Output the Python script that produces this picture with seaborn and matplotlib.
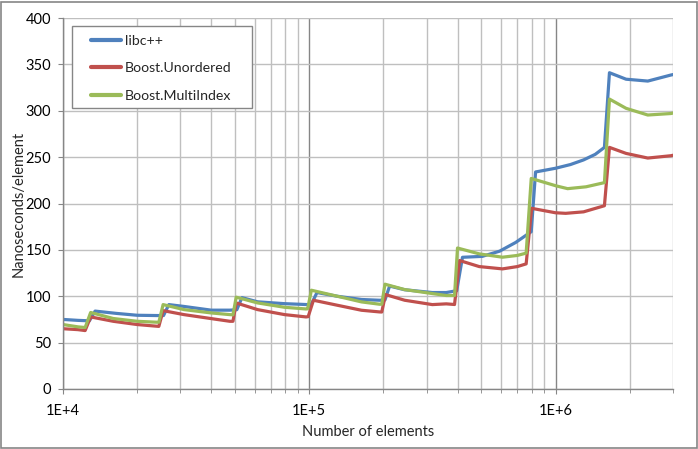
import numpy as np
import pandas as pd
import seaborn as sns
import matplotlib.pyplot as plt
from matplotlib.patches import Rectangle
from matplotlib.ticker import FixedLocator, FuncFormatter, NullFormatter

# values (number of elements, ns/element)
libcpp_n = [10000, 11500, 12800, 13500, 16500, 20000, 24000, 25600, 26900, 31000, 40000,
            47600, 50800, 53300, 61700, 79400, 98600, 102000, 107500, 130000, 163000,
            193000, 203000, 212000, 244000, 316000, 360000, 397000, 419000, 504000,
            593000, 689000, 797000, 830000, 1000000, 1150000, 1300000, 1450000, 1580000,
            1656000, 1935000, 2370000, 2940000, 3000000]
libcpp_ns = [75, 74, 73.5, 84, 81.5, 79.5, 79.2, 79.2, 91, 89, 85,
             85, 85.5, 98.5, 94, 92, 91, 91.5, 104, 100, 96.5,
             95.7, 96, 111, 107, 104, 104, 106, 142, 143,
             148.6, 158, 169.6, 234, 238, 242, 247, 253, 260.5,
             341, 334, 332, 338.5, 339]

unordered_n = [10000, 11500, 12300, 12950, 16000, 20000, 24000, 24500, 25500, 31000,
               40000, 47600, 49000, 50500, 61700, 79400, 97000, 99000, 104000, 130000,
               163000, 193000, 197000, 204000, 244000, 316000, 360000, 389000, 408000,
               490000, 609000, 700000, 760000, 800000, 1000000, 1100000, 1300000,
               1580000, 1656000, 1935000, 2370000, 2940000, 3000000]
unordered_ns = [65, 64, 63, 77.7, 73, 69.5, 67.7, 67.5, 84.5, 80.2,
                75.9, 73, 73, 92.8, 85.6, 80.2, 77.7, 78, 95.7, 90.3,
                84.9, 83.1, 83, 101.8, 95.7, 91, 91.8, 91.1, 138.5,
                132, 129.5, 132, 134.9, 194.8, 190, 189.4, 191,
                197.6, 260.5, 254, 249, 251.5, 252]

multiindex_n = [10000, 11500, 12300, 12950, 16000, 20000, 24000, 24500, 25500, 31000,
                40000, 47600, 49000, 50500, 61700, 79400, 97000, 98500, 102000, 130000,
                163000, 193000, 197000, 203000, 244000, 316000, 360000, 389000, 400000,
                490000, 609000, 700000, 760000, 797000, 1006000, 1120000, 1330000,
                1580000, 1656000, 1935000, 2370000, 2940000, 3000000]
multiindex_ns = [69.5, 67, 66.3, 82.5, 76, 73, 72, 72, 91, 85.6,
                 82, 80.2, 80, 99, 92.8, 88.1, 86.3, 86.5, 106.5, 100,
                 93.9, 91.4, 91.4, 113, 107.2, 102.9, 100.8, 100.8, 152,
                 145.7, 142.1, 144, 146.5, 227, 219, 216, 218,
                 222.5, 312.6, 302.6, 295.4, 297, 297.5]

series_names = ['libc++', 'Boost.Unordered', 'Boost.MultiIndex']
colors = ['#4F81BD', '#C0504D', '#9BBB59']

df = pd.concat([
    pd.DataFrame({'n': libcpp_n, 'ns': libcpp_ns, 'series': series_names[0]}),
    pd.DataFrame({'n': unordered_n, 'ns': unordered_ns, 'series': series_names[1]}),
    pd.DataFrame({'n': multiindex_n, 'ns': multiindex_ns, 'series': series_names[2]}),
])

sns.set_style('white')
plt.rcParams['font.family'] = ['Lato', 'DejaVu Sans']

W, H = 698, 449
fig = plt.figure(figsize=(W / 100, H / 100), dpi=100)
# plot area in pixels: x 63..673, y 18..389
ax = fig.add_axes([63 / W, 1 - 389 / H, 610 / W, 371 / H])

sns.lineplot(data=df, x='n', y='ns', hue='series', hue_order=series_names,
             palette=colors, linewidth=2.3, estimator=None, ax=ax)

ax.set_xscale('log')
ax.set_xlim(1e4, 3e6)
ax.set_ylim(0, 400)

grid_light = '#bfbfbf'
grid_dark = '#868686'

ax.set_yticks(np.arange(0, 401, 50))
ax.xaxis.set_major_locator(FixedLocator([1e4, 1e5, 1e6]))
minors = [m * 10 ** e for e in (4, 5, 6) for m in range(2, 10) if m * 10 ** e <= 3e6]
ax.xaxis.set_minor_locator(FixedLocator(minors))
ax.xaxis.set_major_formatter(FuncFormatter(lambda v, p: '1E+%d' % round(np.log10(v))))
ax.xaxis.set_minor_formatter(NullFormatter())

ax.grid(True, axis='y', color=grid_light, linewidth=1)
ax.grid(True, axis='x', which='major', color=grid_dark, linewidth=1)
ax.grid(True, axis='x', which='minor', color=grid_light, linewidth=1)
ax.set_axisbelow(True)

for side in ['top', 'right']:
    ax.spines[side].set_visible(False)
for side in ['left', 'bottom']:
    ax.spines[side].set_color(grid_dark)
    ax.spines[side].set_linewidth(1)

ax.tick_params(axis='y', which='major', left=True, length=3.6, color=grid_dark,
               labelsize=10.5, pad=5, labelcolor='black')
ax.tick_params(axis='x', which='major', bottom=True, length=3.6, color=grid_dark,
               labelsize=10.5, pad=7, labelcolor='black')
ax.tick_params(axis='x', which='minor', bottom=True, length=3, color=grid_dark)

ax.set_xlabel('Number of elements', fontsize=10.5)
ax.set_ylabel('Nanoseconds/element', fontsize=10.5)
ax.xaxis.set_label_coords(0.5, -0.098)
ax.yaxis.set_label_coords(-0.062, 0.5)

# legend box drawn separately (Excel style padding)
ax.add_patch(Rectangle((9 / 610, (389 - 108) / 371), 180 / 610, 82 / 371,
                       transform=ax.transAxes, facecolor='white', edgecolor=grid_dark,
                       linewidth=1, zorder=4))
handles, labels = ax.get_legend_handles_labels()
leg = ax.legend(handles, labels, loc='upper left', bbox_to_anchor=(28 / 610, 0.955),
                fontsize=10.2, frameon=False, handlelength=2.15, handletextpad=0.22,
                labelspacing=1.1, borderpad=0, borderaxespad=0)
leg.set_zorder(5)
for line in leg.get_lines():
    line.set_linewidth(3)

fig.patches.append(Rectangle((0.5 / W, 1.5 / H), 696 / W, 446 / H,
                             transform=fig.transFigure, fill=False,
                             edgecolor=grid_dark, linewidth=1.2))

fig.savefig('out.png', dpi=100)
